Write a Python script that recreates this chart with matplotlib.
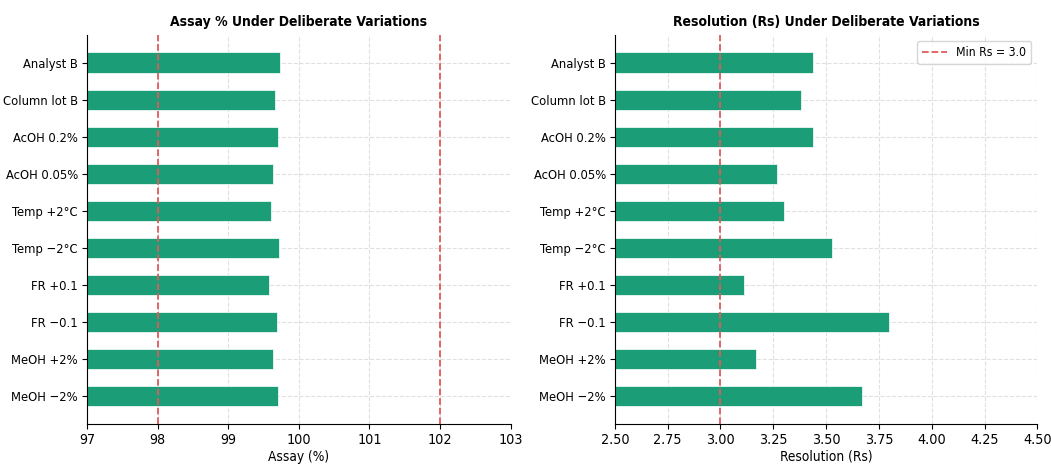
import matplotlib
matplotlib.use("Agg")
import matplotlib.pyplot as plt
from matplotlib import font_manager

conditions = ["MeOH \u22122%", "MeOH +2%", "FR \u22120.1", "FR +0.1", "Temp \u22122\u00b0C",
              "Temp +2\u00b0C", "AcOH 0.05%", "AcOH 0.2%", "Column lot B", "Analyst B"]
assay = [99.70, 99.64, 99.69, 99.58, 99.72, 99.60, 99.64, 99.70, 99.66, 99.74]
resolution = [3.67, 3.17, 3.80, 3.11, 3.53, 3.30, 3.27, 3.44, 3.38, 3.44]
assay_limits = [98.0, 102.0]
min_rs = 3.0

bar_color = "#1b9e77"
line_color = "#e05a5a"

plt.rcParams['font.family'] = ['DejaVu Sans']
has_cond = any("Condensed" in f.fname and "DejaVuSans" in f.fname for f in font_manager.fontManager.ttflist)
scale = 1.0 if has_cond else 0.88
if has_cond:
    plt.rcParams['font.stretch'] = 'condensed'
fs_ytick = 9.3 * scale
fs_xtick = 10.3 * scale
fs_title = 10.0 * scale
fs_label = 9.8 * scale
fs_leg = 8.8 * scale

fig = plt.figure(figsize=(10.51, 4.70), dpi=100)
ax1 = fig.add_axes([0.0828, 0.098, 0.403, 0.828])
ax2 = fig.add_axes([0.585, 0.098, 0.402, 0.828])

y = list(range(len(conditions)))

for ax in (ax1, ax2):
    ax.grid(True, linestyle="--", color="#cccccc", alpha=0.6, linewidth=0.8)
    ax.set_axisbelow(True)
    ax.spines["top"].set_visible(False)
    ax.spines["right"].set_visible(False)
    ax.tick_params(axis="y", labelsize=fs_ytick, pad=3)
    ax.tick_params(axis="x", labelsize=fs_xtick, pad=3)

ax1.barh(y, assay, height=0.55, color=bar_color, edgecolor="white", linewidth=0.5)
for lim in assay_limits:
    ax1.axvline(lim, color=line_color, linestyle="--", linewidth=1.3)
ax1.set_xlim(97, 103)
ax1.set_yticks(y)
ax1.set_yticklabels(conditions)
ax1.set_xlabel("Assay (%)", fontsize=fs_label, labelpad=2)
ax1.set_title("Assay % Under Deliberate Variations", fontsize=fs_title, fontweight="bold")

ax2.barh(y, resolution, height=0.55, color=bar_color, edgecolor="white", linewidth=0.5)
ax2.axvline(min_rs, color=line_color, linestyle="--", linewidth=1.3, label="Min Rs = 3.0")
ax2.set_xlim(2.5, 4.5)
ax2.set_yticks(y)
ax2.set_yticklabels(conditions)
ax2.set_xlabel("Resolution (Rs)", fontsize=fs_label, labelpad=2)
ax2.set_title("Resolution (Rs) Under Deliberate Variations", fontsize=fs_title, fontweight="bold")
ax2.legend(loc="upper right", fontsize=fs_leg)

fig.savefig("out.png", dpi=100)
